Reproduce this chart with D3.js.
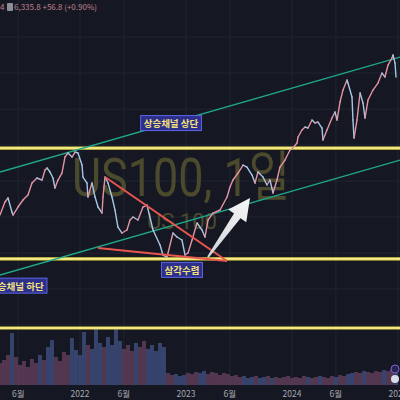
<!DOCTYPE html>
<html>
<head>
<meta charset="utf-8">
<script src="https://cdn.jsdelivr.net/npm/d3@7"></script>
<style>
  html, body { margin: 0; padding: 0; background: #151822; }
  svg { display: block; }
</style>
</head>
<body>
<script>
// ---- data (decimal years / index points) ----
var priceT = [2021.245,2021.292,2021.321,2021.358,2021.368,2021.415,2021.462,2021.509,2021.547,2021.594,
  2021.642,2021.670,2021.689,2021.717,2021.745,2021.764,2021.792,2021.830,2021.858,2021.887,
  2021.925,2021.953,2021.981,2022.019,2022.028,2022.066,2022.075,2022.113,2022.142,2022.170,
  2022.208,2022.217,2022.236,2022.264,2022.302,2022.330,2022.358,2022.396,2022.443,2022.472,
  2022.500,2022.547,2022.594,2022.632,2022.689,2022.755,2022.783,2022.821,2022.877,2022.915,
  2022.962,2022.991,2023.019,2023.057,2023.104,2023.151,2023.179,2023.208,2023.255,2023.321,
  2023.387,2023.415,2023.443,2023.491,2023.538,2023.575,2023.623,2023.651,2023.679,2023.726,
  2023.764,2023.792,2023.821,2023.858,2023.887,2023.934,2023.981,2024.009,2024.047,2024.057,
  2024.094,2024.123,2024.151,2024.189,2024.217,2024.245,2024.283,2024.292,2024.330,2024.377,
  2024.406,2024.425,2024.453,2024.481,2024.519,2024.528,2024.566,2024.575,2024.585,2024.613,
  2024.642,2024.670,2024.689,2024.717,2024.764,2024.811,2024.849,2024.877,2024.906,2024.943,
  2024.953,2024.972,2024.981];
var priceV = [13045,13754,13973,13209,13045,13482,13863,14136,14791,15064,
  14954,15500,15609,15391,15064,14518,14954,15336,16209,16427,
  16209,16482,16427,15773,15118,14791,14027,14791,14027,13482,
  13154,14027,15118,14791,14027,13318,12390,12063,12227,12772,
  12936,12772,13482,13591,12227,11409,10863,10754,12063,11845,
  11682,10863,10972,11682,12609,12227,11845,12772,13154,13318,
  14027,14573,14954,15336,15773,15664,15227,14791,15391,15118,
  14682,14954,14245,14954,15664,16045,16591,16700,16973,17300,
  17682,17846,17791,18227,18064,18118,17791,17136,17682,18336,
  18664,18227,19209,19864,20409,20246,19482,18227,17246,18227,
  19700,19155,18336,19318,19864,20246,20791,20573,21228,21610,
  21773,21336,20573];

var volStart = 2021.245, volStep = 0.03774;
var volumes = [22,25,30,52,28,20,24,18,26,22,30,25,38,45,28,24,33,30,47,35,
  30,53,40,36,57,42,38,48,40,58,44,36,40,34,42,38,44,36,40,34,
  42,38,12,10,11,9,10,12,11,13,12,14,11,13,12,10,12,11,9,10,
  8,9,7,8,9,7,8,9,7,8,7,8,9,7,8,7,9,8,7,8,
  9,8,7,9,8,10,9,11,12,13,12,14,13,12,14,13,15,14,16,14];

var levels = [16700, 10650, 6880];               // yellow horizontal lines
var gridPrices = [22750, 20790, 18820, 16860, 14900, 12940, 10970, 9010, 7050];
var tickT = [2021.417, 2022, 2022.414, 2023, 2023.414, 2024, 2024.414, 2025];
var tickLabels = ["6월", "2022", "6월", "2023", "6월", "2024", "6월", "2025"];

var channels = [
  {t0: 2021.245, p0: 15391, t1: 2025.019, p1: 21664},
  {t0: 2021.245, p0: 9772,  t1: 2025.019, p1: 16045}
];
var triangle = [
  {t0: 2022.236, p0: 15118, t1: 2023.387, p1: 10536},
  {t0: 2022.170, p0: 11245, t1: 2023.387, p1: 10536}
];
var arrowPts = {t0: 2023.208, p0: 10754, t1: 2023.604, p1: 13973};

var labels = [
  {text: "상승채널 상단", t: 2022.858, p: 18030},
  {text: "상승채널 하단", t: 2021.40, p: 9160},
  {text: "삼각수렴", t: 2022.962, p: 10020}
];

var W = 400, H = 400;
var x = d3.scaleLinear().domain([2022, 2025]).range([80, 398]);
var y = d3.scaleLinear().domain([10700, 21830]).range([258, 54]);
var yv = d3.scaleLinear().domain([0, 60]).range([385, 325]);

var svg = d3.select("body").append("svg").attr("width", W).attr("height", H);
svg.append("rect").attr("width", W).attr("height", H).attr("fill", "#151822");

// grid
svg.selectAll(".vgrid").data(tickT).enter().append("line")
  .attr("x1", function(d){ return x(d); }).attr("x2", function(d){ return x(d); })
  .attr("y1", 0).attr("y2", 386)
  .attr("stroke", "#202433").attr("stroke-width", 1);
svg.selectAll(".hgrid").data(gridPrices).enter().append("line")
  .attr("x1", 0).attr("x2", W)
  .attr("y1", function(d){ return y(d); }).attr("y2", function(d){ return y(d); })
  .attr("stroke", "#202433").attr("stroke-width", 1);

// watermark
svg.append("text").text("US100, 1일")
  .attr("x", 72).attr("y", 196)
  .attr("textLength", 218).attr("lengthAdjust", "spacingAndGlyphs")
  .style("font-family", "Roboto, 'Noto Sans CJK KR', sans-serif")
  .style("font-size", "54px").attr("fill", "#4c4a2d");
svg.append("text").text("US 100")
  .attr("x", 147).attr("y", 229)
  .attr("textLength", 70).attr("lengthAdjust", "spacingAndGlyphs")
  .style("font-family", "Roboto, sans-serif")
  .style("font-size", "22px").attr("fill", "#4c4a2d");

// volume
function dirAt(t){
  var i = d3.bisectLeft(priceT, t);
  if (i <= 0) i = 1;
  if (i >= priceT.length) i = priceT.length - 1;
  return priceV[i] >= priceV[i-1];
}
svg.selectAll(".vol").data(volumes).enter().append("rect")
  .attr("x", function(d, i){ return x(volStart + i * volStep) - 2; })
  .attr("width", 4)
  .attr("y", function(d){ return yv(d); })
  .attr("height", function(d){ return yv(0) - yv(d); })
  .attr("fill", function(d, i){ return dirAt(volStart + i * volStep) ? "#6e4565" : "#45568c"; })
  .attr("opacity", 0.7);

// yellow levels
svg.selectAll(".lvl").data(levels).enter().append("line")
  .attr("x1", 0).attr("x2", W)
  .attr("y1", function(d){ return y(d); }).attr("y2", function(d){ return y(d); })
  .attr("stroke", "#e8d84a").attr("stroke-width", 3.2);
svg.selectAll(".lvlc").data(levels).enter().append("line")
  .attr("x1", 0).attr("x2", W)
  .attr("y1", function(d){ return y(d); }).attr("y2", function(d){ return y(d); })
  .attr("stroke", "#fff6b8").attr("stroke-width", 1);

// channel lines
svg.selectAll(".chan").data(channels).enter().append("line")
  .attr("x1", function(d){ return x(d.t0); }).attr("y1", function(d){ return y(d.p0); })
  .attr("x2", function(d){ return x(d.t1); }).attr("y2", function(d){ return y(d.p1); })
  .attr("stroke", "#1fa88c").attr("stroke-width", 1.3);

// price
var segs = d3.range(1, priceT.length);
svg.selectAll(".seg").data(segs).enter().append("line")
  .attr("x1", function(i){ return x(priceT[i-1]); }).attr("y1", function(i){ return y(priceV[i-1]); })
  .attr("x2", function(i){ return x(priceT[i]); }).attr("y2", function(i){ return y(priceV[i]); })
  .attr("stroke", function(i){ return priceV[i] >= priceV[i-1] ? "#e493a4" : "#a7c6e6"; })
  .attr("stroke-width", 1.4).attr("stroke-linecap", "round");

// triangle
svg.selectAll(".tri").data(triangle).enter().append("line")
  .attr("x1", function(d){ return x(d.t0); }).attr("y1", function(d){ return y(d.p0); })
  .attr("x2", function(d){ return x(d.t1); }).attr("y2", function(d){ return y(d.p1); })
  .attr("stroke", "#e8564f").attr("stroke-width", 2);

// arrow
(function(){
  var x0 = x(arrowPts.t0), y0 = y(arrowPts.p0), x1 = x(arrowPts.t1), y1 = y(arrowPts.p1);
  var dx = x1 - x0, dy = y1 - y0, len = Math.sqrt(dx*dx + dy*dy);
  var ux = dx/len, uy = dy/len, nx = -uy, ny = ux;
  var headL = 22, headW = 11, shaftW = 4;
  var bx = x1 - ux*headL, by = y1 - uy*headL;
  var pts = [
    [x0 + nx*1, y0 + ny*1], [bx + nx*shaftW, by + ny*shaftW], [bx + nx*headW, by + ny*headW],
    [x1, y1], [bx - nx*headW, by - ny*headW], [bx - nx*shaftW, by - ny*shaftW], [x0 - nx*1, y0 - ny*1]
  ];
  var grad = svg.append("defs").append("linearGradient").attr("id", "ag")
    .attr("gradientUnits", "userSpaceOnUse")
    .attr("x1", x0).attr("y1", y0).attr("x2", x1).attr("y2", y1);
  grad.append("stop").attr("offset", "0").attr("stop-color", "#cfd3da");
  grad.append("stop").attr("offset", "1").attr("stop-color", "#f7f7f7");
  svg.append("polygon").attr("points", pts.map(function(p){ return p.join(","); }).join(" "))
    .attr("fill", "url(#ag)");
})();

// labels
labels.forEach(function(l){
  var g = svg.append("g").attr("transform", "translate(" + x(l.t) + "," + y(l.p) + ")");
  var t = g.append("text").text(l.text)
    .attr("text-anchor", "middle").attr("dy", "0.36em")
    .style("font-family", "'Noto Sans CJK KR', sans-serif")
    .style("font-size", "9.5px").style("font-weight", "bold")
    .attr("fill", "#f3e27a");
  var bb = t.node().getBBox();
  g.insert("rect", "text")
    .attr("x", bb.x - 3).attr("y", bb.y - 0.5)
    .attr("width", bb.width + 6).attr("height", bb.height + 1)
    .attr("fill", "#2c2f8c").attr("stroke", "#5d66e0").attr("stroke-width", 1);
});

// x axis labels
svg.selectAll(".tick").data(tickT).enter().append("text")
  .attr("x", function(d){ return x(d); }).attr("y", 397)
  .attr("text-anchor", "middle")
  .style("font-family", "'Noto Sans CJK KR', sans-serif").style("font-size", "8.5px")
  .attr("fill", "#a3a6b0")
  .text(function(d, i){ return tickLabels[i]; });

// header text
svg.append("text").attr("x", 0).attr("y", 10)
  .style("font-family", "'Noto Sans CJK KR', sans-serif").style("font-size", "8px")
  .attr("fill", "#c0808f").text("4");
svg.append("rect").attr("x", 7).attr("y", 3).attr("width", 6).attr("height", 8)
  .attr("fill", "#8b8e99").attr("rx", 1);
svg.append("text").attr("x", 14).attr("y", 10)
  .style("font-family", "'Noto Sans CJK KR', sans-serif").style("font-size", "8px")
  .attr("fill", "#c0808f").text("6,335.8  +56.8 (+0.90%)");

// right-edge badges
svg.append("circle").attr("cx", 395).attr("cy", 369).attr("r", 4)
  .attr("fill", "#2a2350").attr("stroke", "#7a5fd0");
svg.append("circle").attr("cx", 395).attr("cy", 379).attr("r", 4).attr("fill", "#d8dde8");
</script>
</body>
</html>
